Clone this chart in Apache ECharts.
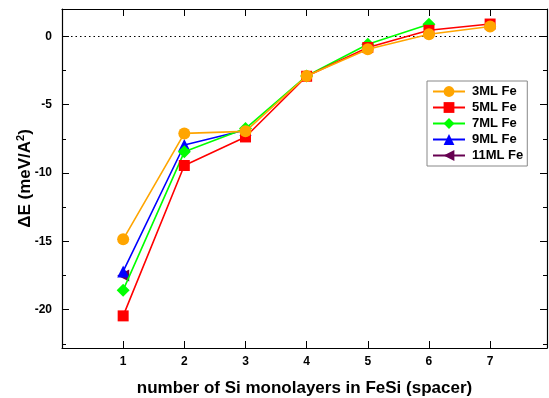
<!DOCTYPE html>
<html><head><meta charset="utf-8">
<script src="https://cdn.jsdelivr.net/npm/echarts@6/dist/echarts.min.js"></script>
<style>html,body{margin:0;padding:0;background:#fff}#c{width:549px;height:398px}</style>
</head><body><div id="c"></div>
<script>
const xs = [1, 2, 3, 4, 5, 6, 7];
const fe3 = [-14.85, -7.1, -6.95, -2.9, -0.95, 0.15, 0.72];
const fe5 = [-20.45, -9.45, -7.36, -2.92, -0.82, 0.44, 0.9];
const fe7 = [-18.57, -8.45, -6.75, -2.9, -0.58, 0.88];
const fe9 = [-17.2, -7.95, -6.85];
const fe11 = [-17.5];
const names = ['3ML Fe', '5ML Fe', '7ML Fe', '9ML Fe', '11ML Fe'];
const yMajor = [-20, -15, -10, -5, 0];
const yMinor = [-22.5, -17.5, -12.5, -7.5, -2.5];
const xTicks = [1, 2, 3, 4, 5, 6, 7];

const font = 'Liberation Sans, Arial, Helvetica, sans-serif';
const pair = arr => arr.map((v, i) => [xs[i], v]);
const defs = [
  {d: fe3, c: '#FFA500', s: 'circle', z: 12, r: 0},
  {d: fe5, c: '#FF0000', s: 'rect', z: 11, r: 0},
  {d: fe7, c: '#00FF00', s: 'diamond', z: 13, r: 0},
  {d: fe9, c: '#0000FF', s: 'triangle', z: 12, r: 0},
  {d: fe11, c: '#660050', s: 'triangle', z: 12, r: 90}
];
const series = defs.map((o, i) => ({
  name: names[i], type: 'line', data: pair(o.d), symbol: o.s, symbolSize: o.z,
  symbolRotate: o.r, showSymbol: true,
  lineStyle: {color: o.c, width: 1.6}, itemStyle: {color: o.c}, z: 10 - i,
  animation: false
}));
series[0].markLine = {
  silent: true, symbol: 'none', label: {show: false},
  lineStyle: {color: '#000', type: [1.5, 3], width: 1.2},
  data: [{yAxis: 0}], animation: false
};

const yBase = {type: 'value', min: -22.8, max: 2, splitLine: {show: false}};
const xBase = {type: 'value', min: 0, max: 7.93, splitLine: {show: false}};
const chart = echarts.init(document.getElementById('c'));
chart.setOption({
  animation: false,
  grid: {left: 62, right: 2, top: 9, bottom: 50, containLabel: false, outerBoundsMode: 'none'},
  legend: {
    orient: 'vertical', left: 427, top: 81, data: names,
    backgroundColor: '#fff', borderColor: '#888', borderWidth: 1,
    padding: [4, 4, 4, 5], itemGap: 3, itemWidth: 32, itemHeight: 13.5,
    textStyle: {fontFamily: font, fontWeight: 'bold', fontSize: 13, color: '#000', padding: [0, 0, 0, 2]}
  },
  xAxis: [
    Object.assign({}, xBase, {position: 'bottom',
      name: 'number of Si monolayers in FeSi (spacer)', nameLocation: 'middle', nameGap: 32,
      nameMoveOverlap: false,
      nameTextStyle: {fontFamily: font, fontWeight: 'bold', fontSize: 17, color: '#000'},
      axisLine: {onZero: false, lineStyle: {color: '#000', width: 1.2}},
      axisTick: {inside: true, length: 7, customValues: xTicks, lineStyle: {color: '#000'}},
      axisLabel: {customValues: xTicks, margin: 8, fontFamily: font, fontWeight: 'bold', fontSize: 12, color: '#000'}}),
    Object.assign({}, xBase, {position: 'top',
      axisLine: {onZero: false, lineStyle: {color: '#000', width: 1.2}},
      axisTick: {inside: true, length: 7, customValues: xTicks, lineStyle: {color: '#000'}},
      axisLabel: {show: false}})
  ],
  yAxis: [
    Object.assign({}, yBase, {position: 'left',
      name: '{a|ΔE (meV/A}{s|2}{a|)}', nameLocation: 'middle', nameGap: 27, nameRotate: 90,
      nameMoveOverlap: false,
      nameTextStyle: {rich: {
        a: {fontFamily: font, fontWeight: 'bold', fontSize: 17, color: '#000'},
        s: {fontFamily: font, fontWeight: 'bold', fontSize: 11, color: '#000', verticalAlign: 'top', padding: [0, 0, 9, 0]}
      }},
      axisLine: {onZero: false, lineStyle: {color: '#000', width: 1.2}},
      axisTick: {inside: true, length: 7, customValues: yMajor, lineStyle: {color: '#000'}},
      axisLabel: {customValues: yMajor, margin: 10, fontFamily: font, fontWeight: 'bold', fontSize: 12, color: '#000'}}),
    Object.assign({}, yBase, {position: 'left',
      axisLine: {show: false, onZero: false},
      axisTick: {inside: true, length: 4, customValues: yMinor, lineStyle: {color: '#000'}},
      axisLabel: {show: false}}),
    Object.assign({}, yBase, {position: 'right',
      axisLine: {show: true, onZero: false, lineStyle: {color: '#000', width: 1.2}},
      axisTick: {inside: true, length: 7, customValues: yMajor, lineStyle: {color: '#000'}},
      axisLabel: {show: false}}),
    Object.assign({}, yBase, {position: 'right',
      axisLine: {show: false, onZero: false},
      axisTick: {inside: true, length: 4, customValues: yMinor, lineStyle: {color: '#000'}},
      axisLabel: {show: false}})
  ],
  series: series
});
</script></body></html>
